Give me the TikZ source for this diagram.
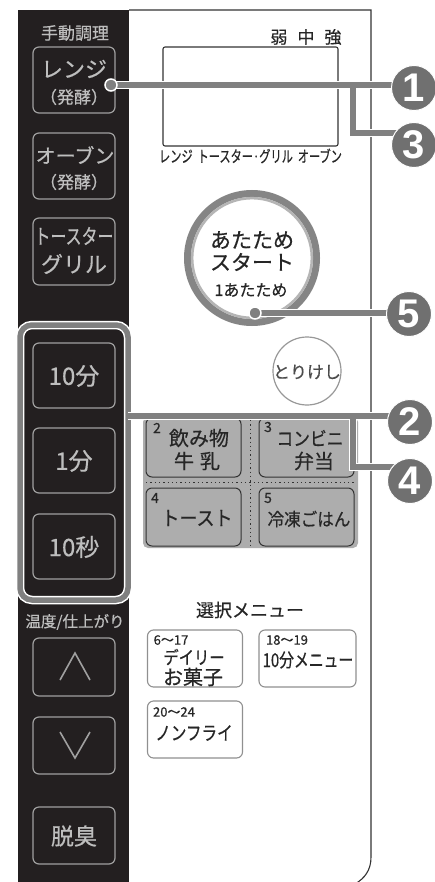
\documentclass[tikz,border=0pt]{standalone}
\usepackage{graphicx}
\usepackage{fontspec}
\setmainfont{Noto Sans CJK JP}[FakeBold=0.5]
\newfontfamily\numfont{Liberation Sans}
\usetikzlibrary{calc}
\definecolor{panel}{HTML}{231F20}
\definecolor{btxt}{HTML}{BEBEBE}
\definecolor{bline}{HTML}{A0A0A0}
\definecolor{callg}{HTML}{707070}
\definecolor{lineg}{HTML}{808080}
\definecolor{menug}{HTML}{ADADAD}
\definecolor{framec}{HTML}{333333}
\definecolor{ringd}{HTML}{858585}
\definecolor{ringl}{HTML}{B5B5B5}
\newcommand{\fs}[1]{\fontsize{#1pt}{#1pt}\selectfont}
\tikzset{
  darkbtn/.style={draw=bline, line width=1.2pt, rounded corners=6pt, inner sep=0pt},
  lightbtn/.style={draw=bline!90!black, line width=1.1pt, rounded corners=6pt, inner sep=0pt},
  menubtn/.style={draw=framec, line width=1pt, fill=menug, rounded corners=6pt, inner sep=0pt},
  dtxt/.style={text=btxt, inner sep=0pt},
  ktxt/.style={text=black!85, inner sep=0pt},
  callout/.style={draw=lineg, line width=5.5pt, preaction={draw=white, line width=8.5pt}},
  cnum/.style={circle, fill=callg, draw=white, line width=1pt, minimum size=45pt, inner sep=0pt, text=white, font={\numfont\bfseries\fs{40}}},
  cdot/.style={circle, fill=lineg, draw=white, line width=1.5pt, minimum size=12pt, inner sep=0pt},
  arrowline/.style={draw=bline, line width=1.6pt},
}
\begin{document}
\begin{tikzpicture}[x=1pt,y=-1pt]
\useasboundingbox (0,0) rectangle (434,882);
\fill[white] (0,0) rectangle (434,882);
% dark panel
\fill[panel] (18,10) rectangle (129,882);
% frame
\draw[framec, line width=1.1pt] (129,10) -- (371,10) -- (371,857) .. controls (371,870) and (365,878) .. (355,884);
% display
\node[draw=framec, line width=1.1pt, rounded corners=2pt, minimum width=175pt, minimum height=99pt, inner sep=0pt] (disp) at (250.5,96.5) {};
\node[ktxt, font={\fs{17}}] (lvl) at (306,37) {弱\hspace{10pt}中\hspace{10pt}強};
\node[ktxt, font={\fs{16}}] (modes) at (250.5,156) {\scalebox{0.7}[1]{レンジ\hspace{7pt}トースター·グリル\hspace{7pt}オーブン}};
% left panel
\node[dtxt, font={\fs{17}}] (manual) at (75,33) {手動調理};
\node[darkbtn, minimum width=82pt, minimum height=66pt] (brange) at (74,80) {};
\node[dtxt, font={\fs{22}}] at (74,69) {レンジ};
\node[dtxt, font={\fs{17}}] at (74,97) {（発酵）};
\node[darkbtn, minimum width=82pt, minimum height=66pt] (boven) at (74,166) {};
\node[dtxt, font={\fs{20}}] at (75,155) {オーブン};
\node[dtxt, font={\fs{17}}] at (74,182) {（発酵）};
\node[darkbtn, minimum width=82pt, minimum height=67pt] (btoast) at (74,251.5) {};
\node[dtxt, font={\fs{21}}] at (74,236) {\scalebox{0.76}[1]{トースター}};
\node[dtxt, font={\fs{22}}] at (74,264) {グリル};
% group box
\draw[callout, rounded corners=12pt] (20,325) rectangle (128,600);
\node[darkbtn, minimum width=82pt, minimum height=65pt] (b10m) at (74,375.5) {};
\node[dtxt, font={\fs{24}}] at (74,376) {10分};
\node[darkbtn, minimum width=82pt, minimum height=65pt] (b1m) at (74,460.5) {};
\node[dtxt, font={\fs{24}}] at (74,461) {1分};
\node[darkbtn, minimum width=82pt, minimum height=65pt] (b10s) at (74,546.5) {};
\node[dtxt, font={\fs{24}}] at (74,547) {10秒};
\node[dtxt, font={\fs{15.5}}] (temp) at (75,622) {温度/仕上がり};
\node[darkbtn, minimum width=82pt, minimum height=58pt] (bup) at (74,667) {};
\draw[arrowline] (60,680) -- (75,653) -- (90,680);
\node[darkbtn, minimum width=82pt, minimum height=57pt] (bdown) at (74,745.5) {};
\draw[arrowline] (60,732) -- (75,758) -- (90,732);
\node[darkbtn, minimum width=82pt, minimum height=57pt] (bdeo) at (74,835.5) {};
\node[dtxt, font={\fs{23}}] at (74,836) {脱臭};
% start button
\draw[ringd, line width=7pt] (252,258) circle (64.5);
\draw[ringl, line width=2.5pt] (252,258) circle (59.8);
\node[ktxt, font={\fs{21}}] (st1) at (252,240) {あたため};
\node[ktxt, font={\fs{21}}] (st2) at (252,262) {スタート};
\node[ktxt, font={\fs{16}}] (st3) at (251,290) {1あたため};
% cancel
\node[circle, draw=bline!95!black, line width=1.2pt, minimum size=68pt, inner sep=0pt] (cancel) at (307,371) {};
\node[text=black!70, inner sep=0pt, font={\fs{17}}] at (307,372) {とりけし};
% menu block
\fill[menug, rounded corners=5pt] (143,417) rectangle (358,548);
\node[menubtn, minimum width=95pt, minimum height=59pt] (m2) at (193.5,447.5) {};
\node[menubtn, minimum width=95pt, minimum height=59pt] (m3) at (306.5,447.5) {};
\node[menubtn, minimum width=95pt, minimum height=58pt] (m4) at (193.5,517) {};
\node[menubtn, minimum width=95pt, minimum height=58pt] (m5) at (306.5,517) {};
\draw[framec, line width=1.3pt, dash pattern=on 1.3pt off 3pt] (146,482.5) -- (356,482.5);
\draw[framec, line width=1.3pt, dash pattern=on 1.3pt off 3pt] (250.5,420) -- (250.5,546);
\node[ktxt, font={\fs{14}}] at (157,428) {2};
\node[ktxt, font={\fs{20}}] at (199,438) {飲み物};
\node[ktxt, font={\fs{20}}] at (197,461) {牛\hspace{6pt}乳};
\node[ktxt, font={\fs{14}}] at (268,427) {3};
\node[ktxt, font={\fs{19}}] at (310,438) {\scalebox{0.88}[1]{コンビニ}};
\node[ktxt, font={\fs{20}}] at (314,461) {弁当};
\node[ktxt, font={\fs{14}}] at (155,498) {4};
\node[ktxt, font={\fs{20}}] at (197,518) {\scalebox{0.9}[1]{トースト}};
\node[ktxt, font={\fs{14}}] at (268,498) {5};
\node[ktxt, font={\fs{18}}] at (309,519) {\scalebox{0.92}[1]{冷凍ごはん}};
% select menu
\node[ktxt, font={\fs{18}}] (sel) at (250,610) {選択メニュー};
\node[lightbtn, minimum width=95pt, minimum height=57pt] (s1) at (195,658.5) {};
\node[ktxt, font={\fs{13}}] at (171,640) {6～17};
\node[ktxt, font={\fs{18}}] at (194,657) {\scalebox{0.85}[1]{デイリー}};
\node[ktxt, font={\fs{20}}] at (193,677) {お菓子};
\node[lightbtn, minimum width=97pt, minimum height=57pt] (s2) at (307.5,658.5) {};
\node[ktxt, font={\fs{13}}] at (287,640) {18～19};
\node[ktxt, font={\fs{19}}] at (308,660) {\scalebox{0.78}[1]{10分メニュー}};
\node[lightbtn, minimum width=95pt, minimum height=57pt] (s3) at (195,729.5) {};
\node[ktxt, font={\fs{13}}] at (174,712) {20～24};
\node[ktxt, font={\fs{19}}] at (194,733) {\scalebox{0.82}[1]{ノンフライ}};
% callouts
\coordinate (d1) at (111,85);
\coordinate (b13) at (353,85);
\coordinate (e3) at (414,133);
\coordinate (d2) at (128,416);
\coordinate (b24) at (353,416);
\coordinate (e4) at (410,467);
\coordinate (d5) at (255,313);
\draw[callout] (d1) -- (414,85) (b13) |- (e3);
\draw[callout] (d2) -- (410,416) (b24) |- (e4);
\draw[callout] (d5) -- (409,313);
\node[cnum] (c1) at (414,88) {1};
\node[cnum] (c3) at (414,145) {3};
\node[cnum] (c5) at (409,314) {5};
\node[cnum] (c2) at (410,422) {2};
\node[cnum] (c4) at (410,481) {4};
\node[cdot] (dot1) at (d1) {};
\node[cdot] (dot5) at (d5) {};
\end{tikzpicture}
\end{document}
